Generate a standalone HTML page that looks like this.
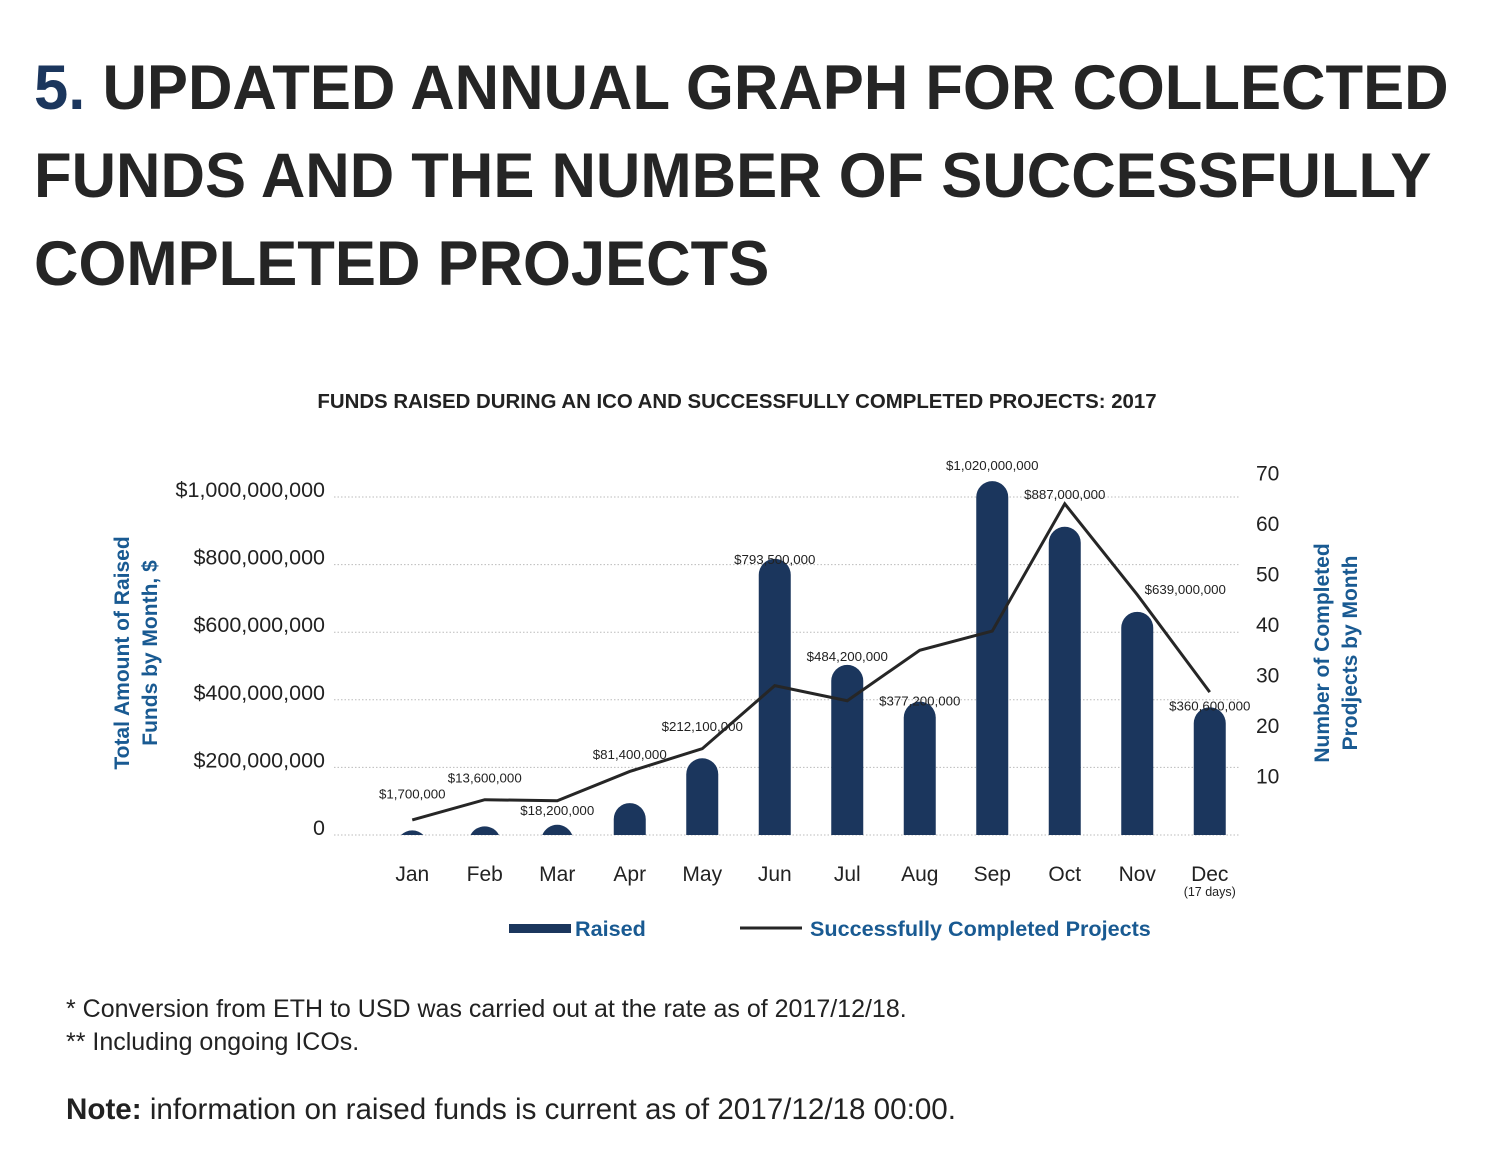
<!DOCTYPE html>
<html><head><meta charset="utf-8">
<style>
body{margin:0;width:1492px;height:1168px;background:#fff;font-family:"Liberation Sans",sans-serif;overflow:hidden;position:relative}
h1{position:absolute;left:34px;top:44px;margin:0;font-size:63px;line-height:88px;font-weight:bold;color:#252525;white-space:nowrap;transform:scaleX(0.977);transform-origin:left top}
h1 span{color:#1b365d}
.note{position:absolute;left:66px;color:#222;white-space:nowrap}
</style></head><body>
<h1><span>5.</span> UPDATED ANNUAL GRAPH FOR COLLECTED<br>FUNDS AND THE NUMBER OF SUCCESSFULLY<br>COMPLETED PROJECTS</h1>
<svg id="chart" width="1492" height="1168" style="position:absolute;left:0;top:0" xmlns="http://www.w3.org/2000/svg" font-family="Liberation Sans, sans-serif"></svg>
<div class="note" style="top:995px;font-size:25px">* Conversion from ETH to USD was carried out at the rate as of 2017/12/18.</div>
<div class="note" style="top:1028px;font-size:25px">** Including ongoing ICOs.</div>
<div class="note" style="top:1093px;font-size:29.6px"><b>Note:</b> information on raised funds is current as of 2017/12/18 00:00.</div>
<script>
const months=["Jan","Feb","Mar","Apr","May","Jun","Jul","Aug","Sep","Oct","Nov","Dec"];
const raised=[1.7,13.6,18.2,81.4,212.1,793.5,484.2,377.2,1020,887,639,360.6];
const raisedLabels=["$1,700,000","$13,600,000","$18,200,000","$81,400,000","$212,100,000","$793,500,000","$484,200,000","$377,200,000","$1,020,000,000","$887,000,000","$639,000,000","$360,600,000"];
const projects=[1.4,5.4,5.2,11,15.5,28,25,35,38.8,64,46,26.7];
const leftTicks=[0,200,400,600,800,1000];
const leftTickLabels=["0","$200,000,000","$400,000,000","$600,000,000","$800,000,000","$1,000,000,000"];
const rightTicks=[10,20,30,40,50,60,70];

const svg=document.getElementById('chart');
const NS='http://www.w3.org/2000/svg';
function mk(tag,attrs,text){const e=document.createElementNS(NS,tag);for(const k in attrs)e.setAttribute(k,attrs[k]);if(text!==undefined)e.textContent=text;svg.appendChild(e);return e;}
const x0=376,step=72.5;
const xs=i=>x0+step*(i+0.5);
const yL=v=>835-v*0.338;
const yR=v=>827-v*5.05;
const barH=v=>v*0.343+4;
// label nudges (style offsets, px)
const labelDx=[0,0,0,0,0,0,0,0,0,0,48,0];
const labelDy=[-24,-36,-2,-36,-19,13,4,12,-3,-20,-10,11];

let t=mk('text',{x:737,y:408,'text-anchor':'middle','font-size':20.4,'font-weight':'bold',fill:'#222'},'FUNDS RAISED DURING AN ICO AND SUCCESSFULLY COMPLETED PROJECTS: 2017');


leftTicks.forEach((v,i)=>{
  const g=mk('line',{x1:334,x2:1240,y1:yL(v),y2:yL(v),stroke:'#bbb','stroke-dasharray':'1.5 2','stroke-width':1});
  
  const l=mk('text',{x:325,y:yL(v)+0,'text-anchor':'end','font-size':21.5,fill:'#222'},leftTickLabels[i]);
  
});
rightTicks.forEach(v=>{
  const l=mk('text',{x:1256,y:yR(v)+7,'font-size':21,fill:'#222'},String(v));
  
});
let a=mk('text',{transform:'translate(129,653) rotate(-90)','text-anchor':'middle','font-size':21,'font-weight':'bold',fill:'#195a92'},'Total Amount of Raised');

a=mk('text',{transform:'translate(157,653) rotate(-90)','text-anchor':'middle','font-size':21,'font-weight':'bold',fill:'#195a92'},'Funds by Month, $');

a=mk('text',{transform:'translate(1329,653) rotate(-90)','text-anchor':'middle','font-size':21,'font-weight':'bold',fill:'#195a92'},'Number of Completed');

a=mk('text',{transform:'translate(1357,653) rotate(-90)','text-anchor':'middle','font-size':21,'font-weight':'bold',fill:'#195a92'},'Prodjects by Month');


const r=16;
raised.forEach((v,i)=>{
  const h=barH(v),x=xs(i)-r,top=835-h;
  let d;
  if(h>r) d=`M${x},835 L${x},${top+r} A${r},${r} 0 0 1 ${x+2*r},${top+r} L${x+2*r},835 Z`;
  else { const hw=Math.sqrt(r*r-(r-h)*(r-h)); d=`M${xs(i)-hw},835 A${r},${r} 0 0 1 ${xs(i)+hw},835 Z`; }
  const b=mk('path',{d:d,fill:'#1b365d'});
  
  const lbl=mk('text',{x:xs(i)+labelDx[i],y:top-8+labelDy[i],'text-anchor':'middle','font-size':13.3,fill:'#222'},raisedLabels[i]);
  
  const m=mk('text',{x:xs(i),y:881,'text-anchor':'middle','font-size':21,fill:'#222'},months[i]);
  
});
let s=mk('text',{x:xs(11),y:896,'text-anchor':'middle','font-size':12.5,fill:'#222'},'(17 days)');

const pts=projects.map((v,i)=>xs(i)+','+yR(v)).join(' ');
const pl=mk('polyline',{points:pts,fill:'none',stroke:'#262626','stroke-width':3});


let lg=mk('rect',{x:509,y:924,width:62,height:9,fill:'#1b365d'});

lg=mk('text',{x:575,y:936,'font-size':21.6,'font-weight':'bold',fill:'#195a92'},'Raised');

lg=mk('line',{x1:740,x2:802,y1:928,y2:928,stroke:'#262626','stroke-width':3});

lg=mk('text',{x:810,y:936,'font-size':21.6,'font-weight':'bold',fill:'#195a92'},'Successfully Completed Projects');

</script>
</body></html>
